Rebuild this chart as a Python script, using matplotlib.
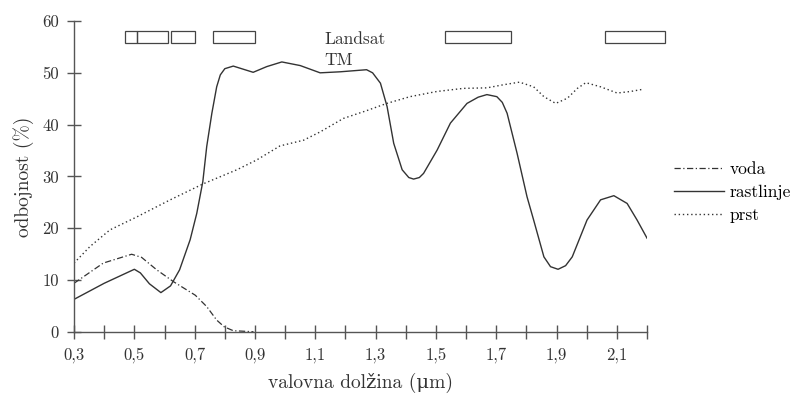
import matplotlib
matplotlib.use("Agg")
import matplotlib.pyplot as plt
from matplotlib.patches import Rectangle

# spectral reflectance curves (wavelength in um, reflectance in %)
veg_x = [0.30, 0.40, 0.50, 0.52, 0.55, 0.588, 0.62, 0.65, 0.685, 0.707, 0.727,
         0.74, 0.757, 0.773, 0.785, 0.8, 0.828, 0.861, 0.894, 0.939, 0.989, 1.05,
         1.116, 1.183, 1.27, 1.29, 1.316, 1.338, 1.36, 1.388, 1.41, 1.426, 1.445, 1.459,
         1.504, 1.548, 1.603, 1.64, 1.669, 1.702, 1.72, 1.736, 1.769, 1.802, 1.824, 1.858,
         1.88, 1.905, 1.93, 1.952, 2.001, 2.046, 2.09, 2.134, 2.167, 2.20]
veg_y = [6.3, 9.4, 12.1, 11.4, 9.3, 7.6, 8.9, 12.0, 17.8, 22.9, 29.0,
         35.8, 42.2, 47.3, 49.6, 50.8, 51.3, 50.7, 50.1, 51.2, 52.1, 51.4,
         50.0, 50.2, 50.6, 50.0, 48.0, 43.5, 36.4, 31.3, 29.8, 29.5, 29.8, 30.6,
         35.1, 40.3, 44.1, 45.3, 45.8, 45.4, 44.3, 42.2, 34.5, 26.1, 21.6, 14.5,
         12.6, 12.1, 12.8, 14.5, 21.6, 25.5, 26.3, 24.8, 21.6, 18.1]

water_x = [0.30, 0.397, 0.491, 0.524, 0.574, 0.63, 0.702, 0.74, 0.773, 0.798, 0.828, 0.895]
water_y = [9.4, 13.3, 15.0, 14.4, 12.0, 9.7, 7.1, 4.9, 2.3, 1.0, 0.25, 0.05]

soil_x = [0.30, 0.353, 0.419, 0.508, 0.619, 0.729, 0.84, 0.906, 0.983, 1.061,
          1.116, 1.193, 1.27, 1.337, 1.414, 1.503, 1.591, 1.669, 1.724, 1.777,
          1.824, 1.858, 1.897, 1.936, 1.969, 1.997, 2.046, 2.101, 2.145, 2.184]
soil_y = [13.3, 16.5, 19.7, 22.2, 25.5, 28.6, 31.3, 33.2, 35.9, 37.0,
          38.6, 41.2, 42.7, 44.1, 45.4, 46.4, 47.0, 47.1, 47.7, 48.2,
          47.3, 45.4, 44.1, 45.1, 47.0, 48.1, 47.3, 46.1, 46.4, 46.8]

# Landsat TM bands
band_lo = [0.47, 0.51, 0.62, 0.76, 1.53, 2.06]
band_hi = [0.51, 0.61, 0.70, 0.90, 1.75, 2.26]

xticks = [round(0.3 + 0.1 * i, 1) for i in range(20)]
xlabels = [f"{t:.1f}".replace(".", ",") if i % 2 == 0 else "" for i, t in enumerate(xticks)]
yticks = [0, 10, 20, 30, 40, 50, 60]

plt.rcParams.update({
    "font.family": ["cmr10", "DejaVu Serif"],
    "axes.unicode_minus": False,
    "font.size": 11.5,
})
LC = "#333333"
AC = "#555555"

fig = plt.figure(figsize=(7.91, 3.96), dpi=100)
ax = fig.add_axes([0.0936, 0.1616, 0.7244, 0.7854])

ax.plot(water_x, water_y, linestyle=(0, (5, 2, 1, 2)), color=LC, lw=0.9, label="voda")
ax.plot(veg_x, veg_y, "-", color=LC, lw=1.0, label="rastlinje")
ax.plot(soil_x, soil_y, linestyle=(0, (1, 2)), color=LC, lw=1.0, label="prst")

for lo, hi in zip(band_lo, band_hi):
    ax.add_patch(Rectangle((lo, 55.7), hi - lo, 2.3, fill=False, edgecolor="#444444",
                           lw=0.9, clip_on=False))
ax.text(1.13, 58.0, "Landsat\nTM", ha="left", va="top", color=LC, linespacing=1.45,
        fontsize=12.5)

ax.set_xlim(0.3, 2.2)
ax.set_ylim(0, 60)
ax.set_xticks(xticks)
ax.set_xticklabels(xlabels)
ax.set_yticks(yticks)
for s in ("top", "right"):
    ax.spines[s].set_visible(False)
for s in ("left", "bottom"):
    ax.spines[s].set_color(AC)
    ax.spines[s].set_linewidth(1.0)
ax.tick_params(direction="inout", length=10, width=1.0, color=AC, labelcolor=LC, pad=6,
               labelsize=12)
ax.set_xlabel("valovna dolžina (\u03bcm)", color=LC, labelpad=7, fontsize=14)
ax.set_ylabel("odbojnost (%)", color=LC, labelpad=6, fontsize=14)

ax.legend(loc="upper left", bbox_to_anchor=(1.035, 0.57), frameon=False, fontsize=12.5,
          handlelength=2.9, handletextpad=0.3, labelspacing=0.45, borderaxespad=0)

fig.savefig("out.png", dpi=100)
